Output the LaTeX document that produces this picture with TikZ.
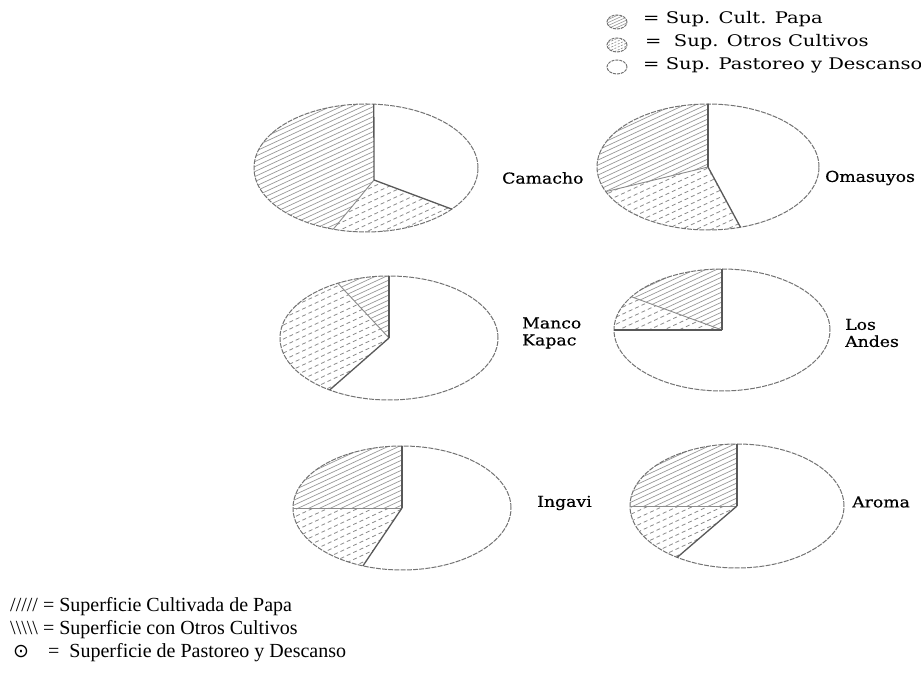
\documentclass[tikz,border=0pt]{standalone}
\usepackage{fontspec}
\usetikzlibrary{calc}
\newfontfamily\serifwide[FakeStretch=1.15,FakeBold=0.6]{DejaVu Serif}
\newfontfamily\serifleg[FakeStretch=1.22]{DejaVu Serif}
\newfontfamily\tnr{Liberation Serif}
\newfontfamily\dvs{DejaVu Sans}
\tikzset{
  outline/.style={draw=black!55, line width=1pt, dash pattern=on 5pt off 1.2pt},
  sliceline/.style={draw=black!65, line width=1.3pt},
  sliceline2/.style={draw=black!45, line width=0.9pt},
  papahatch/.style={draw=black!40, line width=0.7pt},
  otroshatch/.style={draw=black!45, line width=0.8pt, dash pattern=on 4pt off 3pt},
  pielabel/.style={font=\serifwide\fontsize{15}{17}\selectfont, anchor=west, align=left, inner sep=0pt},
  legtext/.style={font=\serifleg\fontsize{16}{18}\selectfont, anchor=west, inner sep=0pt},
  bottext/.style={font=\tnr\fontsize{20}{24}\selectfont, anchor=base west, inner sep=0pt},
}
% cx cy rx ry vx vy a1 a2 style spacing  (a1,a2: parametric angles on the ellipse)
\newcommand{\hatchfill}[8]{%
  \begin{scope}
    \clip (#5) -- (#1:#2 and #3) arc[start angle=#1, end angle=#4, x radius=#2, y radius=#3] -- cycle;
    \foreach \k in {0,...,55} \draw[#6] ($(#7)+(-125,-185+\k*#8)$) -- ++(250,116);
  \end{scope}}
% center cx,cy ; radii rx ry ; vertex offset dx dy ; top angle t ; a ; b
\newcommand{\drawpie}[9]{%
  \begin{scope}[shift={(#1,#2)}]
    \coordinate (V) at (#5,#6);
    \coordinate (O) at (0,0);
    \hatchfill{#7}{#3}{#4}{#8}{V}{papahatch}{O}{5}
    \hatchfill{#8}{#3}{#4}{#9}{V}{otroshatch}{O}{7}
    \draw[outline] (O) ellipse [x radius=#3, y radius=#4];
    \draw[sliceline2] (V) -- (#8:#3 and #4);
    \draw[sliceline] (V) -- (#7:#3 and #4);
    \draw[sliceline] (V) -- (#9:#3 and #4);
  \end{scope}
}
\begin{document}
\begin{tikzpicture}[x=1pt, y=1pt]
\useasboundingbox[fill=white] (0,0) rectangle (921,679);

% top legend
\begin{scope}
  \clip (617,657) ellipse [x radius=10, y radius=7];
  \foreach \k in {0,...,8} \draw[papahatch, line width=0.6pt] (605,640+\k*3) -- ++(24,11);
\end{scope}
\draw[outline, dash pattern=on 3pt off 1pt] (617,657) ellipse [x radius=10, y radius=7];
\begin{scope}
  \clip (617,634) ellipse [x radius=10, y radius=7];
  \foreach \k in {0,...,8} \draw[otroshatch, line width=0.6pt, dash pattern=on 2pt off 1.5pt] (605,617+\k*3) -- ++(24,11);
\end{scope}
\draw[outline, dash pattern=on 3pt off 1pt] (617,634) ellipse [x radius=10, y radius=7];
\draw[outline, dash pattern=on 3pt off 1pt] (617,612) ellipse [x radius=10, y radius=7];
\node[legtext] (l1) at (643,660) {= Sup. Cult. Papa};
\node[legtext] (l2) at (645,637) {=\ \ Sup. Otros Cultivos};
\node[legtext] (l3) at (643,614) {= Sup. Pastoreo y Descanso};

% pies
\drawpie{366}{511}{112}{64}{8}{-12}{86}{253}{320}
\drawpie{708}{512}{111}{63}{0}{0}{90}{203}{287}
\drawpie{389}{341}{109}{62}{0}{0}{90}{118}{237}
\drawpie{722}{349}{108}{61}{0}{0}{90}{147}{180}
\drawpie{402}{171}{109}{62}{0}{0}{90}{180}{249}
\drawpie{737}{173}{107}{62}{0}{0}{90}{180}{236}

\node[pielabel] (camacho) at (502,501) {Camacho};
\node[pielabel] (omasuyos) at (825,501) {Omasuyos};
\node[pielabel] (manco) at (522,346) {Manco\\Kapac};
\node[pielabel] (losandes) at (845,346) {Los\\Andes};
\node[pielabel] (ingavi) at (537,176) {Ingavi};
\node[pielabel] (aroma) at (852,177) {Aroma};

% bottom legend
\node[bottext] (b1) at (10,67) {///// = Superficie Cultivada de Papa};
\node[bottext] (b2) at (10,44) {\textbackslash\textbackslash\textbackslash\textbackslash\textbackslash{} = Superficie con Otros Cultivos};
\node[font=\dvs\fontsize{19}{20}\selectfont, anchor=base west, inner sep=0pt] (b3s) at (13,21) {⊙};
\node[bottext] (b3) at (48,21) {= \ Superficie de Pastoreo y Descanso};
\end{tikzpicture}
\end{document}
